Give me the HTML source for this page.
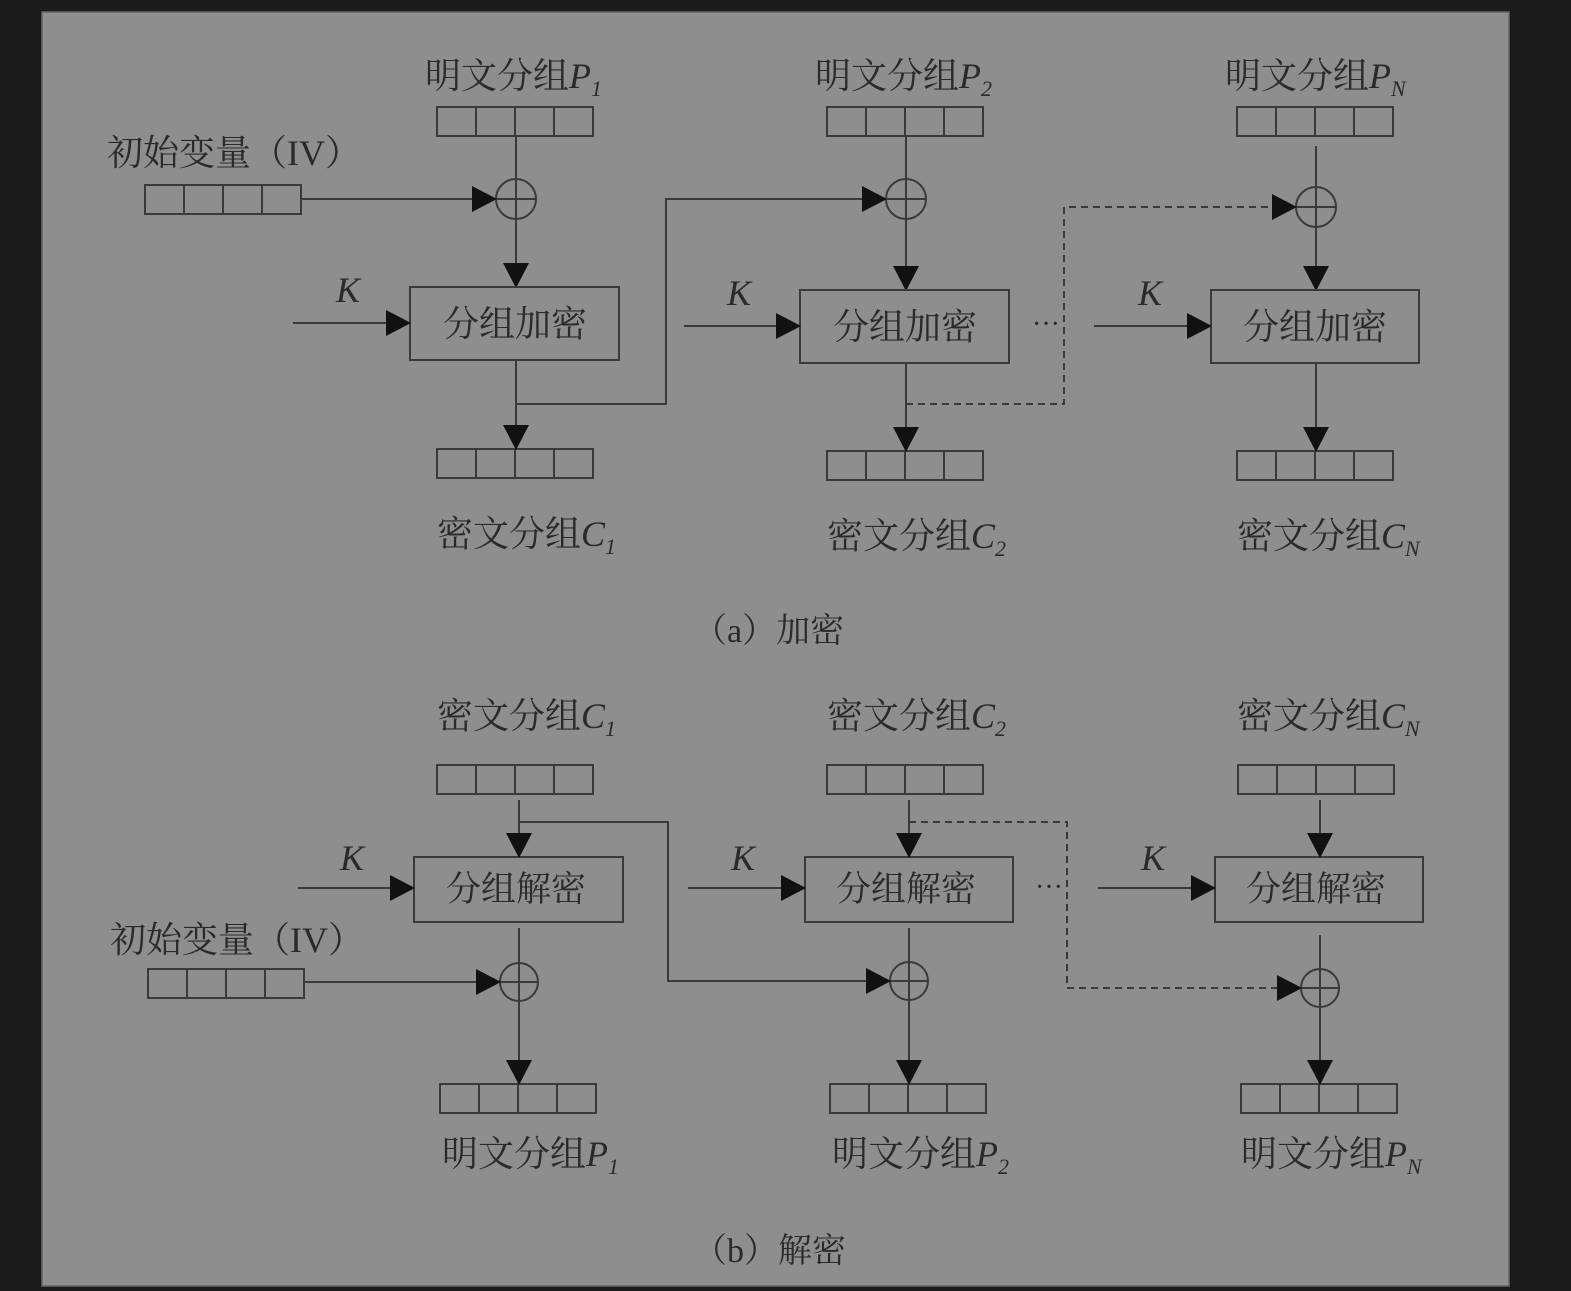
<!DOCTYPE html>
<html><head><meta charset="utf-8"><style>
html,body{margin:0;padding:0;background:#1b1b1b;}
svg{display:block;}
text{font-family:"Liberation Serif","Noto Serif CJK SC",serif;fill:#2a2a2a;}
</style></head><body>
<svg width="1571" height="1291" viewBox="0 0 1571 1291" xmlns="http://www.w3.org/2000/svg">
<defs>
<marker id="a" markerWidth="26" markerHeight="26" refX="24" refY="13" orient="auto" markerUnits="userSpaceOnUse">
<path d="M0,0 L25,13 L0,26 Z" fill="#111"/></marker>
<g id="reg"><rect x="0" y="0" width="156" height="29" fill="none" stroke="#3a3a3a" stroke-width="2"/>
<line x1="39" y1="0" x2="39" y2="29" stroke="#3a3a3a" stroke-width="2"/>
<line x1="78" y1="0" x2="78" y2="29" stroke="#3a3a3a" stroke-width="2"/>
<line x1="117" y1="0" x2="117" y2="29" stroke="#3a3a3a" stroke-width="2"/></g>
</defs>
<rect x="42" y="12" width="1467" height="1274" fill="#8e8e8e" stroke="#666" stroke-width="1.5"/>
<g stroke="#3a3a3a" stroke-width="2" fill="none">
<use href="#reg" x="437" y="107"/><use href="#reg" x="827" y="107"/><use href="#reg" x="1237" y="107"/>
<use href="#reg" x="145" y="185"/>
<use href="#reg" x="437" y="449"/><use href="#reg" x="827" y="451"/><use href="#reg" x="1237" y="451"/>
<circle cx="516" cy="199" r="20"/><line x1="496" y1="199" x2="536" y2="199"/>
<circle cx="906" cy="199" r="20"/><line x1="886" y1="199" x2="926" y2="199"/>
<circle cx="1316" cy="207" r="20"/><line x1="1296" y1="207" x2="1336" y2="207"/>
<line x1="516" y1="136" x2="516" y2="219"/>
<line x1="906" y1="136" x2="906" y2="219"/>
<line x1="1316" y1="146" x2="1316" y2="227"/>
<line x1="301" y1="199" x2="496" y2="199" marker-end="url(#a)"/>
<line x1="516" y1="219" x2="516" y2="287" marker-end="url(#a)"/>
<line x1="906" y1="219" x2="906" y2="290" marker-end="url(#a)"/>
<line x1="1316" y1="227" x2="1316" y2="290" marker-end="url(#a)"/>
<rect x="410" y="287" width="209" height="73"/>
<rect x="800" y="290" width="209" height="73"/>
<rect x="1211" y="290" width="208" height="73"/>
<line x1="293" y1="323" x2="410" y2="323" marker-end="url(#a)"/>
<line x1="684" y1="326" x2="800" y2="326" marker-end="url(#a)"/>
<line x1="1094" y1="326" x2="1211" y2="326" marker-end="url(#a)"/>
<line x1="516" y1="360" x2="516" y2="449" marker-end="url(#a)"/>
<line x1="906" y1="363" x2="906" y2="451" marker-end="url(#a)"/>
<line x1="1316" y1="363" x2="1316" y2="451" marker-end="url(#a)"/>
<polyline points="516,404 666,404 666,199 886,199" marker-end="url(#a)"/>
<polyline points="906,404 1064,404 1064,207 1296,207" stroke-dasharray="7,5" marker-end="url(#a)"/>
<use href="#reg" x="437" y="765"/><use href="#reg" x="827" y="765"/><use href="#reg" x="1238" y="765"/>
<use href="#reg" x="148" y="969"/>
<use href="#reg" x="440" y="1084"/><use href="#reg" x="830" y="1084"/><use href="#reg" x="1241" y="1084"/>
<rect x="414" y="857" width="209" height="65"/>
<rect x="805" y="857" width="208" height="65"/>
<rect x="1215" y="857" width="208" height="65"/>
<line x1="519" y1="800" x2="519" y2="857" marker-end="url(#a)"/>
<line x1="909" y1="800" x2="909" y2="857" marker-end="url(#a)"/>
<line x1="1320" y1="800" x2="1320" y2="857" marker-end="url(#a)"/>
<line x1="298" y1="888" x2="414" y2="888" marker-end="url(#a)"/>
<line x1="688" y1="888" x2="805" y2="888" marker-end="url(#a)"/>
<line x1="1098" y1="888" x2="1215" y2="888" marker-end="url(#a)"/>
<circle cx="519" cy="982" r="19"/><line x1="500" y1="982" x2="538" y2="982"/>
<circle cx="909" cy="981" r="19"/><line x1="890" y1="981" x2="928" y2="981"/>
<circle cx="1320" cy="988" r="19"/><line x1="1301" y1="988" x2="1339" y2="988"/>
<line x1="519" y1="928" x2="519" y2="1001"/>
<line x1="909" y1="928" x2="909" y2="1000"/>
<line x1="1320" y1="935" x2="1320" y2="1007"/>
<line x1="519" y1="1001" x2="519" y2="1084" marker-end="url(#a)"/>
<line x1="909" y1="1000" x2="909" y2="1084" marker-end="url(#a)"/>
<line x1="1320" y1="1007" x2="1320" y2="1084" marker-end="url(#a)"/>
<line x1="304" y1="982" x2="500" y2="982" marker-end="url(#a)"/>
<polyline points="519,822 668,822 668,981 890,981" marker-end="url(#a)"/>
<polyline points="909,822 1067,822 1067,988 1301,988" stroke-dasharray="7,5" marker-end="url(#a)"/>
</g>
<g font-size="36">
<text x="425" y="88">明文分组<tspan font-style="italic">P</tspan><tspan font-style="italic" font-size="22" dy="8">1</tspan></text>
<text x="815" y="88">明文分组<tspan font-style="italic">P</tspan><tspan font-style="italic" font-size="22" dy="8">2</tspan></text>
<text x="1225" y="88">明文分组<tspan font-style="italic">P</tspan><tspan font-style="italic" font-size="22" dy="8">N</tspan></text>
<text x="107" y="165">初始变量（IV）</text>
<text x="336" y="302" font-style="italic">K</text>
<text x="727" y="305" font-style="italic">K</text>
<text x="1138" y="305" font-style="italic">K</text>
<text x="443" y="336">分组加密</text>
<text x="833" y="339">分组加密</text>
<text x="1243" y="339">分组加密</text>
<text x="1032" y="333" font-size="28">···</text>
<text x="437" y="546">密文分组<tspan font-style="italic">C</tspan><tspan font-style="italic" font-size="22" dy="8">1</tspan></text>
<text x="827" y="548">密文分组<tspan font-style="italic">C</tspan><tspan font-style="italic" font-size="22" dy="8">2</tspan></text>
<text x="1237" y="548">密文分组<tspan font-style="italic">C</tspan><tspan font-style="italic" font-size="22" dy="8">N</tspan></text>
<text x="693" y="642" font-size="34">（a）加密</text>
<text x="437" y="728">密文分组<tspan font-style="italic">C</tspan><tspan font-style="italic" font-size="22" dy="8">1</tspan></text>
<text x="827" y="728">密文分组<tspan font-style="italic">C</tspan><tspan font-style="italic" font-size="22" dy="8">2</tspan></text>
<text x="1237" y="728">密文分组<tspan font-style="italic">C</tspan><tspan font-style="italic" font-size="22" dy="8">N</tspan></text>
<text x="340" y="870" font-style="italic">K</text>
<text x="731" y="870" font-style="italic">K</text>
<text x="1141" y="870" font-style="italic">K</text>
<text x="446" y="901" font-size="35">分组解密</text>
<text x="836" y="901" font-size="35">分组解密</text>
<text x="1246" y="901" font-size="35">分组解密</text>
<text x="1035" y="896" font-size="28">···</text>
<text x="110" y="952">初始变量（IV）</text>
<text x="442" y="1166">明文分组<tspan font-style="italic">P</tspan><tspan font-style="italic" font-size="22" dy="8">1</tspan></text>
<text x="832" y="1166">明文分组<tspan font-style="italic">P</tspan><tspan font-style="italic" font-size="22" dy="8">2</tspan></text>
<text x="1241" y="1166">明文分组<tspan font-style="italic">P</tspan><tspan font-style="italic" font-size="22" dy="8">N</tspan></text>
<text x="693" y="1262" font-size="34">（b）解密</text>
</g>
</svg>
</body></html>
